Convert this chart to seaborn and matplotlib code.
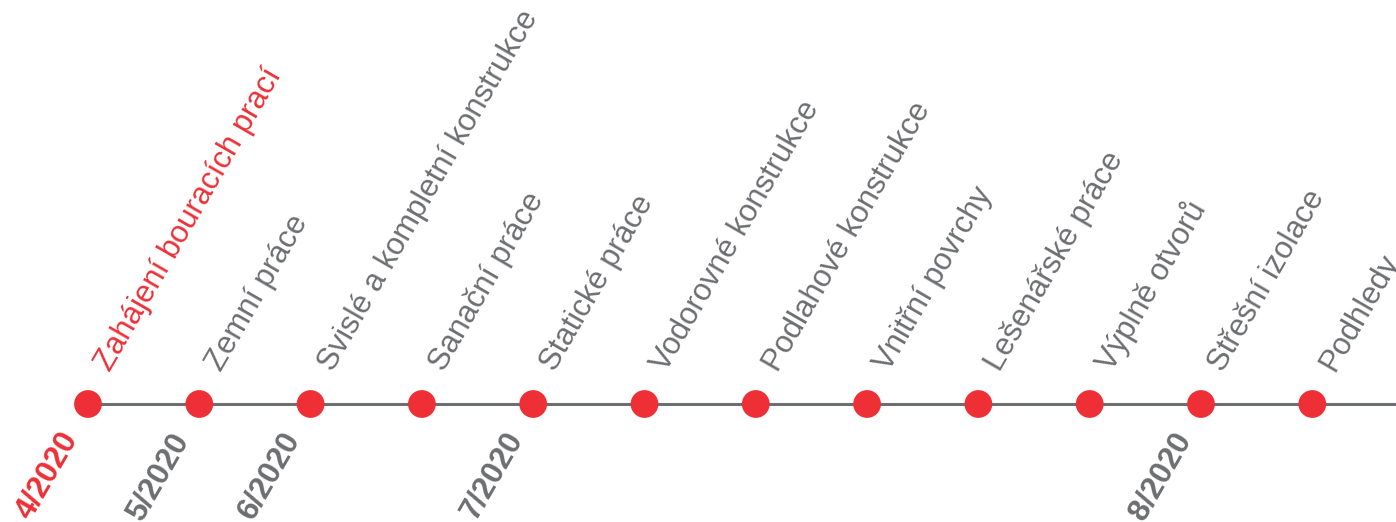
import matplotlib
matplotlib.use("Agg")
import matplotlib.pyplot as plt
import seaborn as sns
import pandas as pd

# ---- data ----
events = ["Zahájení bouracích prací", "Zemní práce", "Svislé a kompletní konstrukce",
          "Sanační práce", "Statické práce", "Vodorovné konstrukce",
          "Podlahové konstrukce", "Vnitřní povrchy", "Lešenářské práce",
          "Výplně otvorů", "Střešní izolace", "Podhledy"]
dates = ["4/2020", "5/2020", "6/2020", "", "7/2020", "", "", "", "", "", "8/2020", ""]
highlight = [True] + [False] * 11

RED = "#ee2f36"
GRAY = "#6d6e71"

sns.set_theme(style="white")
plt.rcParams["font.family"] = ["Liberation Sans", "DejaVu Sans"]

df = pd.DataFrame({"step": range(len(events)), "y": [0] * len(events), "event": events})

W, H, DPI = 13.96, 5.22, 100
fig = plt.figure(figsize=(W, H), dpi=DPI)
ax = fig.add_axes([0, 0, 1, 1])

# pixel mapping: step 0 -> ~88px, spacing ~111.3px ; y=0 -> 404px from top
first_px = 88.0
px_per_step = 111.3
x0 = -first_px / px_per_step
x1 = x0 + 1396 / px_per_step
ax.set_xlim(x0, x1)
yb = 118 / 522
ax.set_ylim(-yb, 1 - yb)

ax.axhline(0, xmin=first_px / 1396, xmax=1, color=GRAY, lw=2.2, zorder=1)
sns.scatterplot(data=df, x="step", y="y", ax=ax, s=400, color=RED,
                edgecolor="none", zorder=3, legend=False)

for i, (ev, d, hl) in enumerate(zip(events, dates, highlight)):
    c = RED if hl else GRAY
    ax.annotate(ev, (i, 0), xytext=(22, 31), textcoords="offset pixels",
                rotation=60, rotation_mode="anchor", ha="left", va="baseline",
                fontsize=22.3, color=c)
    if d:
        ax.annotate(d, (i, 0), xytext=(-30, -23), textcoords="offset pixels",
                    rotation=60, rotation_mode="anchor", ha="right", va="top",
                    fontsize=22.5, fontweight="bold", color=c)

ax.set_axis_off()
fig.savefig("out.png", dpi=DPI)
